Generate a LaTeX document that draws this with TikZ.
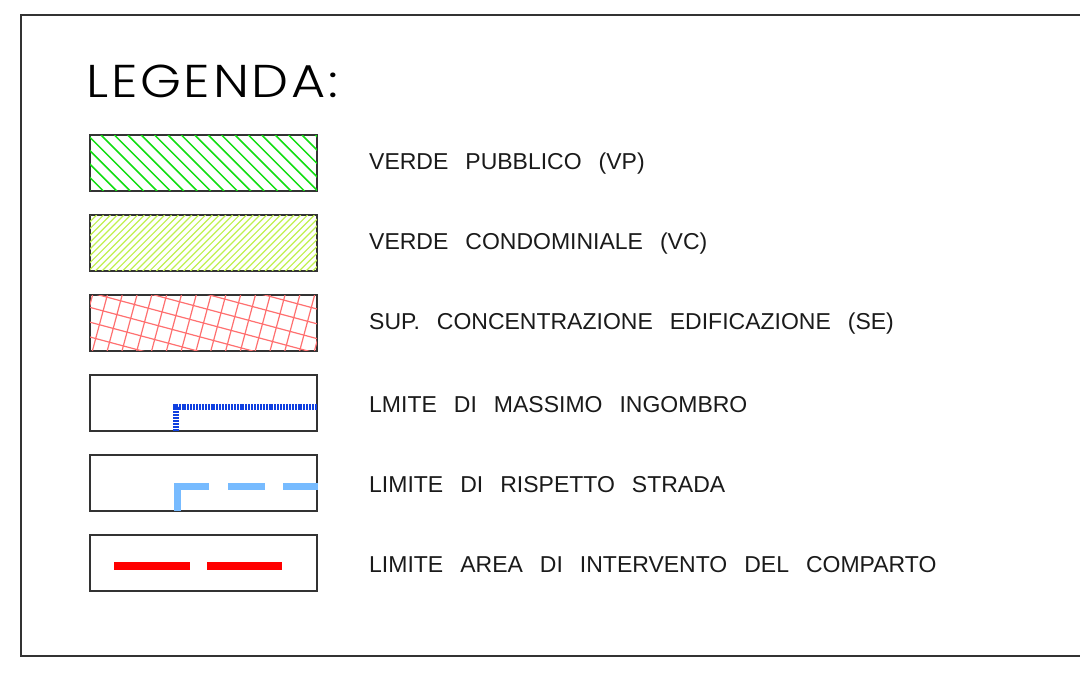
\documentclass[tikz,border=0pt]{standalone}
\usepackage{fontspec}
\setmainfont{Liberation Sans}
\newfontfamily\titlefont[FakeStretch=1.14,LetterSpace=6]{Poppins-Light.ttf}
\newfontfamily\labfont{Liberation Sans}
\newcommand\widewords{\spaceskip=17pt plus 0pt minus 0pt\relax}
\definecolor{frame}{HTML}{333333}
\definecolor{vpgreen}{HTML}{11DD11}
\definecolor{vcgreen}{HTML}{C0F050}
\definecolor{sered}{HTML}{FF7070}
\definecolor{mibl}{HTML}{1040E0}
\definecolor{rsbl}{HTML}{77BBFF}
\definecolor{cored}{HTML}{FF0000}
\definecolor{txt}{HTML}{1A1A1A}
\begin{document}
\begin{tikzpicture}[x=1pt,y=-1pt,
  swatch/.style={draw=frame,line width=1.4pt,minimum width=227pt,minimum height=56pt,inner sep=0pt},
  lab/.style={anchor=base west,inner sep=0pt,text=txt,font=\labfont\fontsize{23}{23}\selectfont},
  ttl/.style={anchor=base west,inner sep=0pt,font=\titlefont\fontsize{46}{46}\selectfont}]
\useasboundingbox (0,0) rectangle (1080,681);
\draw[frame,line width=1.8pt] (1090,15) -- (21,15) -- (21,656) -- (1090,656);
\node[ttl] (title) at (86,97) {LEGENDA:};
% swatches
\foreach \i/\yc in {1/163,2/243,3/323,4/403,5/483,6/563}{
  \node[swatch] (b\i) at (203.5,\yc) {};
}
% hatch 1
\begin{scope}
\clip (b1.south west) rectangle (b1.north east);
\foreach \k in {0,...,22}{
  \draw[vpgreen,line width=1.5pt] ({34+\k*13.4},135) -- ++(56,56);
}
\end{scope}
% hatch 2
\begin{scope}
\clip (b2.south west) rectangle (b2.north east);
\foreach \k in {0,...,45}{
  \draw[vcgreen,line width=1.2pt] ({90+\k*6.8},215) -- ++(-56,56);
}
\end{scope}
% hatch 3
\begin{scope}
\clip (b3.south west) rectangle (b3.north east);
\begin{scope}[rotate around={-15:(b3.center)}]
\foreach \k in {-20,...,20}{
  \draw[sered,line width=1.2pt] ({203.5+\k*14.3},180) -- ++(0,290);
  \draw[sered,line width=1.2pt] (-50,{323+\k*14.3}) -- ++(500,0);
}
\end{scope}
\end{scope}
\draw[swatch] (b1.south west) rectangle (b1.north east);
\draw[swatch] (b2.south west) rectangle (b2.north east);
\draw[swatch] (b3.south west) rectangle (b3.north east);
% line 4
\coordinate (m1) at (176,430.5);
\coordinate (m2) at (176,407);
\coordinate (m3) at (b4.east |- m2);
\draw[mibl,line width=5.5pt,dash pattern=on 2pt off 0.9pt] (m1) -- (m2) -- (m3);
% line 5
\coordinate (r1) at (177,510.5);
\coordinate (r2) at (177,486.5);
\coordinate (r3) at (b5.east |- r2);
\draw[rsbl,line width=7pt,dash pattern=on 56pt off 19pt on 37pt off 18pt on 40pt off 0pt] (r1) -- (r2) -- (r3);
% line 6
\coordinate (c1) at (114,566);
\coordinate (c2) at (282,566);
\draw[cored,line width=7.5pt,dash pattern=on 76pt off 17pt] (c1) -- (c2);
% labels
\node[lab] (l1) at (369,169.5) {\widewords VERDE PUBBLICO (VP)};
\node[lab] (l2) at (369,249.5) {\widewords VERDE CONDOMINIALE (VC)};
\node[lab] (l3) at (369,329.5) {\widewords SUP. CONCENTRAZIONE EDIFICAZIONE (SE)};
\node[lab] (l4) at (369,412.5) {\widewords LMITE DI MASSIMO INGOMBRO};
\node[lab] (l5) at (369,492.5) {\widewords LIMITE DI RISPETTO STRADA};
\node[lab] (l6) at (369,572.5) {\widewords LIMITE AREA DI INTERVENTO DEL COMPARTO};
\end{tikzpicture}
\end{document}
